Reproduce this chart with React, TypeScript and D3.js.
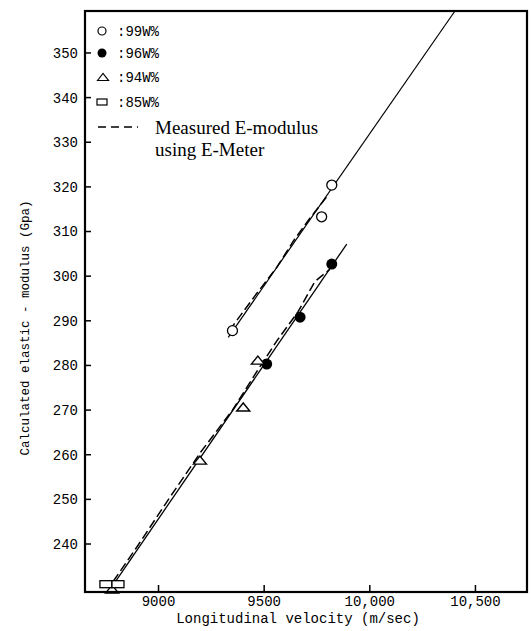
import React from 'react'
import * as d3 from 'd3'

// axis ticks
const xTicks = [9000, 9500, 10000, 10500]
const xTickLabels = ['9000', '9500', '10,000', '10,500']
const yTicks = [240, 250, 260, 270, 280, 290, 300, 310, 320, 330, 340, 350]

// measured points: velocity (m/sec) and calculated modulus (Gpa)
const v99 = [9350, 9772, 9820]
const e99 = [287.8, 313.3, 320.4]
const v96 = [9512, 9670, 9820]
const e96 = [280.3, 290.8, 302.7]
const v94 = [8780, 9196, 9401, 9470]
const e94 = [229.9, 258.8, 270.7, 281.2]
const v85 = [8751, 8808]
const e85 = [231.0, 231.0]

// fitted (solid) lines
const fitUpperV = [9330, 10403]
const fitUpperE = [286.3, 359.4]
const fitLowerV = [8779, 9891]
const fitLowerE = [230.4, 307.2]

// E-Meter (dashed) curves
const meterUpperV = [9335, 9450, 9560, 9640, 9720, 9800]
const meterUpperE = [287.8, 295.2, 302.0, 308.0, 313.2, 318.0]
const meterLowerV = [8785, 8900, 9050, 9200, 9350, 9470, 9560, 9660, 9740, 9810]
const meterLowerE = [231.6, 239.5, 250.2, 260.6, 270.0, 279.0, 285.5, 292.0, 298.8, 301.5]

const legendLabels = [':99W%', ':96W%', ':94W%', ':85W%']

const W = 531
const H = 631
const left = 85, right = 527, top = 11, bottom = 592
const ink = '#000'
const mono = '"Liberation Mono", "DejaVu Sans Mono", monospace'
const serif = '"Liberation Serif", "DejaVu Serif", serif'

const x = d3.scaleLinear().domain([8652, 10744]).range([left, right])
const y = d3.scaleLinear().domain([229.25, 359.4]).range([bottom, top])

const zip = (vs: number[], es: number[]) => vs.map((v, i) => [v, es[i]] as [number, number])
const line = d3.line<[number, number]>().x(d => x(d[0])).y(d => y(d[1]))

const tri = (cx: number, cy: number, w: number, h: number) =>
  `M${cx - w / 2},${cy + h / 2}L${cx},${cy - h / 2}L${cx + w / 2},${cy + h / 2}Z`

export default function App() {
  return (
    <div style={{ position: 'fixed', left: 0, top: 0, background: '#fff' }}>
      <svg width={W} height={H} style={{ display: 'block' }}>
        <rect width={W} height={H} fill="#fff" />

        {/* fitted lines */}
        <path d={line(zip(fitUpperV, fitUpperE)) || ''} fill="none" stroke={ink} strokeWidth={1.2} />
        <path d={line(zip(fitLowerV, fitLowerE)) || ''} fill="none" stroke={ink} strokeWidth={1.3} />
        {/* E-Meter curves */}
        <path d={line(zip(meterUpperV, meterUpperE)) || ''} fill="none" stroke={ink} strokeWidth={1.5} strokeDasharray="9,4" />
        <path d={line(zip(meterLowerV, meterLowerE)) || ''} fill="none" stroke={ink} strokeWidth={1.5} strokeDasharray="9,4" />

        {/* points */}
        {zip(v99, e99).map((d, i) => (
          <circle key={'a' + i} cx={x(d[0])} cy={y(d[1])} r={5} fill="#fff" stroke={ink} strokeWidth={1.3} />
        ))}
        {zip(v96, e96).map((d, i) => (
          <circle key={'b' + i} cx={x(d[0])} cy={y(d[1])} r={5.5} fill={ink} />
        ))}
        {zip(v94, e94).map((d, i) => (
          <path key={'c' + i} d={tri(x(d[0]), y(d[1]), 13, 8)} fill="#fff" stroke={ink} strokeWidth={1.4} />
        ))}
        {zip(v85, e85).map((d, i) => (
          <rect key={'d' + i} x={x(d[0]) - 6} y={y(d[1]) - 3.5} width={12} height={7} fill="#fff" stroke={ink} strokeWidth={1.3} />
        ))}

        {/* frame */}
        <rect x={left} y={top} width={right - left} height={bottom - top} fill="none" stroke={ink} strokeWidth={2.2} />

        {/* y axis */}
        {yTicks.map(t => (
          <g key={'y' + t}>
            <line x1={left} x2={left + 6} y1={y(t)} y2={y(t)} stroke={ink} strokeWidth={1.5} />
            <text x={78} y={y(t)} dy="0.35em" textAnchor="end" fontFamily={mono} fontSize={14} fill={ink}>{t}</text>
          </g>
        ))}
        {/* x axis */}
        {xTicks.map((t, i) => (
          <g key={'x' + t}>
            <line x1={x(t)} x2={x(t)} y1={bottom} y2={bottom - 7} stroke={ink} strokeWidth={1.5} />
            <text x={x(t)} y={606} textAnchor="middle" fontFamily={mono} fontSize={14} fill={ink}>{xTickLabels[i]}</text>
          </g>
        ))}

        <text x={298} y={623} textAnchor="middle" fontFamily={mono} fontSize={14} fill={ink}>Longitudinal velocity (m/sec)</text>
        <text transform="translate(25,328) rotate(-90)" textAnchor="middle" dy="0.35em" fontFamily={mono} fontSize={12.5} fill={ink}>Calculated elastic - modulus (Gpa)</text>

        {/* legend */}
        <circle cx={102} cy={31} r={4} fill="#fff" stroke={ink} strokeWidth={1.2} />
        <circle cx={102} cy={53} r={4.5} fill={ink} />
        <path d={tri(103, 77, 11, 7)} fill="#fff" stroke={ink} strokeWidth={1.2} />
        <rect x={97} y={99} width={10} height={6} fill="#fff" stroke={ink} strokeWidth={1.2} />
        {legendLabels.map((l, i) => (
          <text key={l} x={117} y={[31, 53, 77, 102][i]} dy="0.35em" fontFamily={mono} fontSize={14} fill={ink}>{l}</text>
        ))}
        <line x1={98} x2={138} y1={127} y2={127} stroke={ink} strokeWidth={1.6} strokeDasharray="8,5" />
        <text x={155} y={127} dy="0.35em" fontFamily={serif} fontSize={19} fill={ink}>Measured E-modulus</text>
        <text x={155} y={149} dy="0.35em" fontFamily={serif} fontSize={19} fill={ink}>using E-Meter</text>
      </svg>
    </div>
  )
}
